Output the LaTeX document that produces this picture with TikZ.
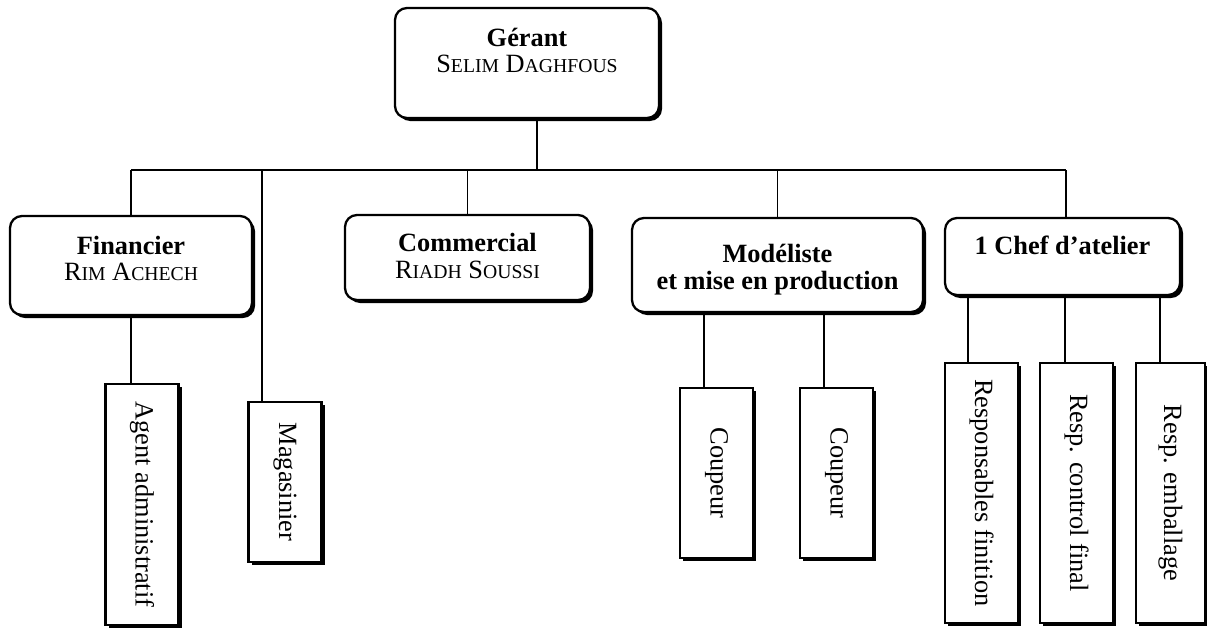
\documentclass[tikz,border=0pt]{standalone}
\usepackage{fontspec}
\setmainfont{Liberation Serif}
\usetikzlibrary{positioning,shadows}

\newcommand{\taille}{\fontsize{15}{17.5}\selectfont}
\newcommand{\pc}[1]{{\fontsize{11.2}{13}\selectfont #1}}

\tikzset{
	ombre/.style={drop shadow={shadow xshift=0.06cm, shadow yshift=-0.06cm, opacity=1, fill=black}},
	boite/.style={draw, line width=1.3pt, rounded corners=0.24cm, fill=white, ombre},
	poste/.style={draw, line width=1.3pt, fill=white, ombre, minimum width=1.46cm},
	titre/.style={font=\taille\bfseries, inner sep=0pt},
	nom/.style={inner sep=0pt},
	lien/.style={line width=0.9pt}
}

\begin{document}
\begin{tikzpicture}[font=\taille]
	\useasboundingbox (0,0) rectangle (24.14,12.6);
	% gerant
	\node[boite, minimum width=5.28cm, minimum height=2.2cm] (gerant) at (10.54,11.34) {};
	\node[titre] (gerant-t) at (10.54,11.86) {Gérant};
	\node[nom] (gerant-n) at (10.54,11.32) {S\pc{ELIM} D\pc{AGHFOUS}};
	% deuxieme niveau
	\node[boite, minimum width=4.84cm, minimum height=1.98cm] (fin) at (2.62,7.29) {};
	\node[titre] (fin-t) at (2.62,7.7) {Financier};
	\node[nom] (fin-n) at (2.62,7.16) {R\pc{IM} A\pc{CHECH}};
	\node[boite, minimum width=4.9cm, minimum height=1.7cm] (com) at (9.35,7.45) {};
	\node[titre] (com-t) at (9.35,7.76) {Commercial};
	\node[nom] (com-n) at (9.35,7.2) {R\pc{IADH} S\pc{OUSSI}};
	\node[boite, minimum width=5.82cm, minimum height=1.88cm] (mod) at (15.55,7.3) {};
	\node[titre] (mod-t) at (15.55,7.54) {Modéliste};
	\node[titre] (mod-n) at (15.55,6.94) {et mise en production};
	\node[boite, minimum width=4.7cm, minimum height=1.54cm] (chef) at (21.25,7.47) {};
	\node[titre] (chef-t) at (21.25,7.7) {1 Chef d’atelier};
	% postes
	\node[poste, minimum height=4.82cm] (agent) at (2.84,2.51) {\rotatebox{-90}{Agent administratif}};
	\node[poste, minimum height=3.2cm] (mag) at (5.7,2.96) {\rotatebox{-90}{Magasinier}};
	\node[poste, minimum height=3.4cm] (coup1) at (14.33,3.14) {\rotatebox{-90}{Coupeur}};
	\node[poste, minimum height=3.4cm] (coup2) at (16.73,3.14) {\rotatebox{-90}{Coupeur}};
	\node[poste, minimum height=5.2cm] (resp1) at (19.63,2.74) {\rotatebox{-90}{Responsables finition}};
	\node[poste, minimum height=5.2cm] (resp2) at (21.53,2.74) {\rotatebox{-90}{Resp. control final}};
	\node[poste, minimum width=1.38cm, minimum height=5.2cm] (resp3) at (23.41,2.74) {\rotatebox{-90}{Resp. emballage}};
	% liaisons
	\coordinate (barre) at (0,9.2);
	\coordinate (g) at (10.74,0);
	\coordinate (ch) at (21.32,0);
	\coordinate (m) at (5.24,0);
	\coordinate (c1) at (14.08,0);
	\coordinate (c2) at (16.48,0);
	\coordinate (r1) at (19.36,0);
	\coordinate (r2) at (21.3,0);
	\coordinate (r3) at (23.2,0);
	\draw[lien] (g |- gerant.south) -- (g |- barre);
	\draw[lien] (fin.north |- barre) -- (ch |- barre);
	\draw[lien] (fin.north |- barre) -- (fin.north);
	\draw[lien] (com.north |- barre) -- (com.north);
	\draw[lien] (mod.north |- barre) -- (mod.north);
	\draw[lien] (ch |- barre) -- (ch |- chef.north);
	\draw[lien] (m |- barre) -- (m |- mag.north);
	\draw[lien] (fin.south) -- (fin.south |- agent.north);
	\draw[lien] (c1 |- mod.south) -- (c1 |- coup1.north);
	\draw[lien] (c2 |- mod.south) -- (c2 |- coup2.north);
	\draw[lien] (r1 |- chef.south) -- (r1 |- resp1.north);
	\draw[lien] (r2 |- chef.south) -- (r2 |- resp2.north);
	\draw[lien] (r3 |- chef.south) -- (r3 |- resp3.north);
\end{tikzpicture}
\end{document}
